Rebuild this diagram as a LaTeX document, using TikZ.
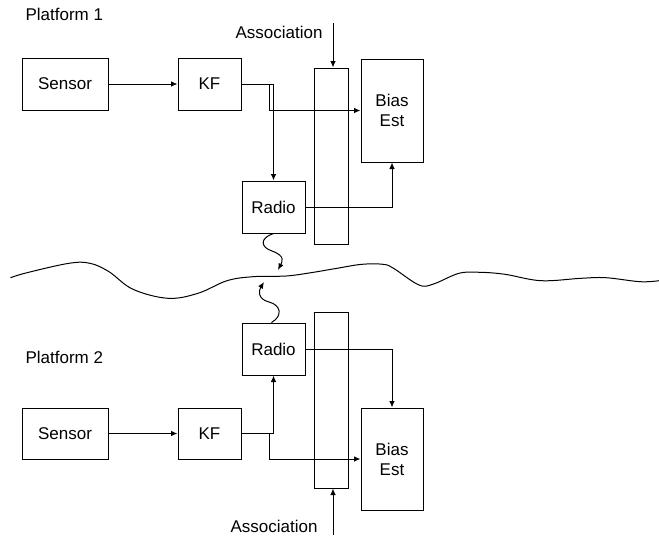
\documentclass[tikz,border=0pt]{standalone}
\usepackage{fontspec}
\setmainfont{Liberation Sans}
\usetikzlibrary{arrows.meta}
\begin{document}
\begin{tikzpicture}[x=1pt,y=-1pt,
  every node/.style={font=\fontsize{17}{20}\selectfont},
  blk/.style={draw,line width=1pt,inner sep=0pt,align=center},
  conn/.style={line width=1pt,-{Latex[length=6.5pt,width=5.5pt]}},
  plain/.style={line width=1pt}]
\useasboundingbox (0,0) rectangle (659,541);
% Platform 1
\node[anchor=west] (p1) at (22,14) {Platform 1};
\node[blk,minimum width=86pt,minimum height=52pt] (sensorA) at (65,84) {Sensor};
\node[blk,minimum width=63pt,minimum height=52pt] (kfA) at (209.5,84) {KF};
\node[blk,minimum width=63pt,minimum height=52pt] (radioA) at (273.5,207) {Radio};
\node[blk,minimum width=34pt,minimum height=176pt] (assocA) at (331,156) {};
\node[blk,minimum width=62pt,minimum height=103pt] (biasA) at (392,110.5) {Bias\\Est};
\node[anchor=east] (alabA) at (326,32) {Association};
\coordinate (ainA) at (333,23);
\draw[conn] (sensorA) -- (kfA);
\draw[conn] (kfA.east) -| (radioA.north);
\draw[conn] (kfA.east) -- ++(28,0) |- (biasA.west);
\draw[conn] (radioA.east) -| (biasA.south);
\draw[conn] (ainA) -- (ainA |- assocA.north);
% Platform 2
\node[anchor=west] (p2) at (22,357) {Platform 2};
\node[blk,minimum width=86pt,minimum height=51pt] (sensorB) at (65,433.5) {Sensor};
\node[blk,minimum width=63pt,minimum height=51pt] (kfB) at (209.5,433.5) {KF};
\node[blk,minimum width=63pt,minimum height=52pt] (radioB) at (273.5,349) {Radio};
\node[blk,minimum width=34pt,minimum height=176pt] (assocB) at (331,400) {};
\node[blk,minimum width=62pt,minimum height=102pt] (biasB) at (392,459) {Bias\\Est};
\node[anchor=east] (alabB) at (321,526) {Association};
\coordinate (ainB) at (333,535);
\draw[conn] (sensorB) -- (kfB);
\draw[conn] (kfB.east) -| (radioB.south);
\draw[conn] (kfB.east) -- ++(28,0) |- (biasB.west);
\draw[conn] (radioB.east) -| (biasB.north);
\draw[conn] (ainB) -- (ainB |- assocB.south);
% wavy boundary
\draw[plain] plot[smooth,tension=0.6] coordinates {
 (10.5,277.7) (27,272.7) (69,263.3) (90,263.3) (109,271.7) (133,289.3)
 (168,298.3) (198,293.3) (227,280.7) (253,276.7) (286,276) (311,272.7)
 (337,268.3) (362,264.3) (383,264.3) (393.5,268.3) (419,285) (433.5,284)
 (459,273.3) (480,272.3) (505,274.3) (541,280.7) (581,278.3) (606,277.7)
 (640,281.7) (659,280.7)};
% radio links
\coordinate (wA) at (278,270);
\coordinate (wB) at (264,282);
\draw[conn] ([xshift=0pt]radioA.south) .. controls (260,238) and (260,247) .. (272,251)
  .. controls (286,256) and (282,262) .. (wA);
\draw[conn] ([xshift=-2pt]radioB.north) .. controls (283,316) and (281,305) .. (269,302)
  .. controls (257,299) and (259,290) .. (wB);
\end{tikzpicture}
\end{document}
